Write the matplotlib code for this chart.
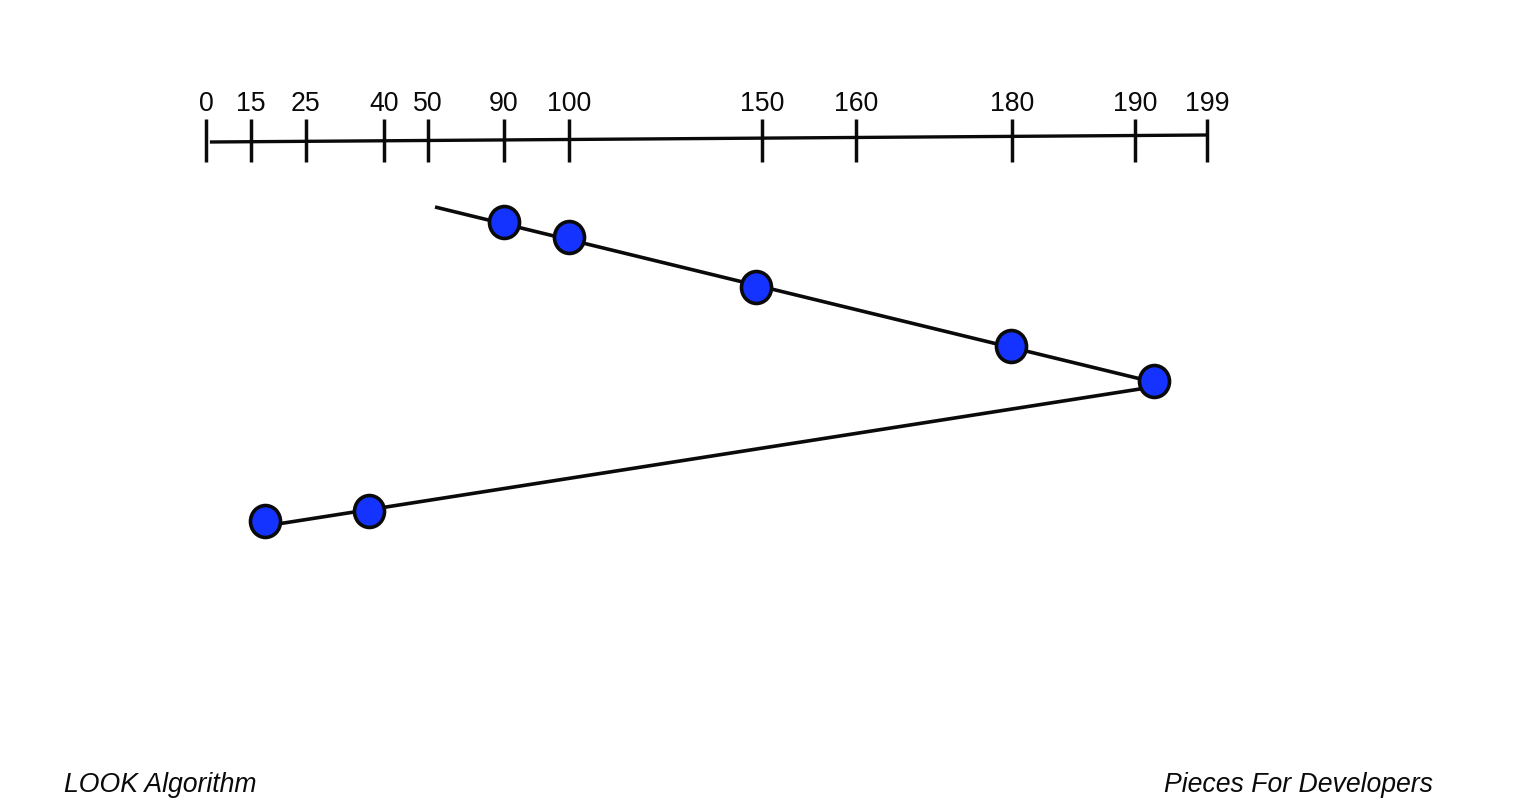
import numpy as np
import matplotlib
matplotlib.use("Agg")
import matplotlib.pyplot as plt
from matplotlib.path import Path
from matplotlib.transforms import Affine2D

# Track numbers shown on the ruler and where each sits along the (non-linear) ruler
tick_tracks = [0, 15, 25, 40, 50, 90, 100, 150, 160, 180, 190, 199]
tick_labels = ["0", "15", "25", "40", "50", "90", "100", "150", "160", "180", "190", "199"]
ruler_units = [206, 251, 306, 384, 428, 504, 569, 762, 856, 1012, 1135, 1207]

# Head path: start, turning point, end (straight strokes)
path_tracks = [53.7, 193.8, 17.5]
path_steps = [207, 385, 526]

# Requests served, drawn on top of the path
visit_tracks = [90, 100, 148.5, 179.9, 192.4, 37.1, 17.5]
visit_steps = [222, 237, 287, 346, 381, 511, 521]

# Ruler baseline (slightly tilted in the picture)
ruler_tracks = [1.3, 199]
ruler_steps = [142, 135]

BLUE = "#1433FF"
INK = "#0A0A0A"
TEXT_FONT = ["Liberation Sans", "DejaVu Sans"]

fig = plt.figure(figsize=(15.2, 8.11), dpi=100, facecolor="white")
ax = fig.add_axes([0, 0, 1, 1])


def forward(t):
    t = np.asarray(t, dtype=float)
    u = np.interp(t, tick_tracks, ruler_units)
    return np.where(t < 0, 206 + 3.0 * t, np.where(t > 199, 1207 + 8.0 * (t - 199), u))


def inverse(u):
    u = np.asarray(u, dtype=float)
    t = np.interp(u, ruler_units, tick_tracks)
    return np.where(u < 206, (u - 206) / 3.0, np.where(u > 1207, 199 + (u - 1207) / 8.0, t))


ax.set_xscale("function", functions=(forward, inverse))
ax.set_xlim(float(inverse(0.0)), float(inverse(1520.0)))
ax.set_ylim(811, 0)
ax.set_autoscale_on(False)
ax.axis("off")

ax.plot(ruler_tracks, ruler_steps, color=INK, lw=2.4, solid_capstyle="butt")
ax.vlines(tick_tracks, 119, 162, color=INK, lw=2.5)
for t, lab in zip(tick_tracks, tick_labels):
    ax.annotate(lab, (t, 104), ha="center", va="center", fontsize=19.2, color=INK,
                family=TEXT_FONT)

ax.plot(path_tracks, path_steps, color=INK, lw=2.6, solid_capstyle="butt", zorder=2)

oval = Path.unit_circle().transformed(Affine2D().scale(0.94, 1.0))
ax.plot(visit_tracks, visit_steps, ls="none", marker=oval, ms=23,
        mfc=BLUE, mec=INK, mew=2.6, zorder=3)

for label, pos, anchor in [("LOOK Algorithm", 64 / 1520, "left"),
                           ("Pieces For Developers", 1433 / 1520, "right")]:
    fig.text(pos, 1 - 784.5 / 811, label, ha=anchor, va="center", fontsize=19.2,
             style="italic", color=INK, family=TEXT_FONT)

fig.savefig("out.png", dpi=100, facecolor="white")
